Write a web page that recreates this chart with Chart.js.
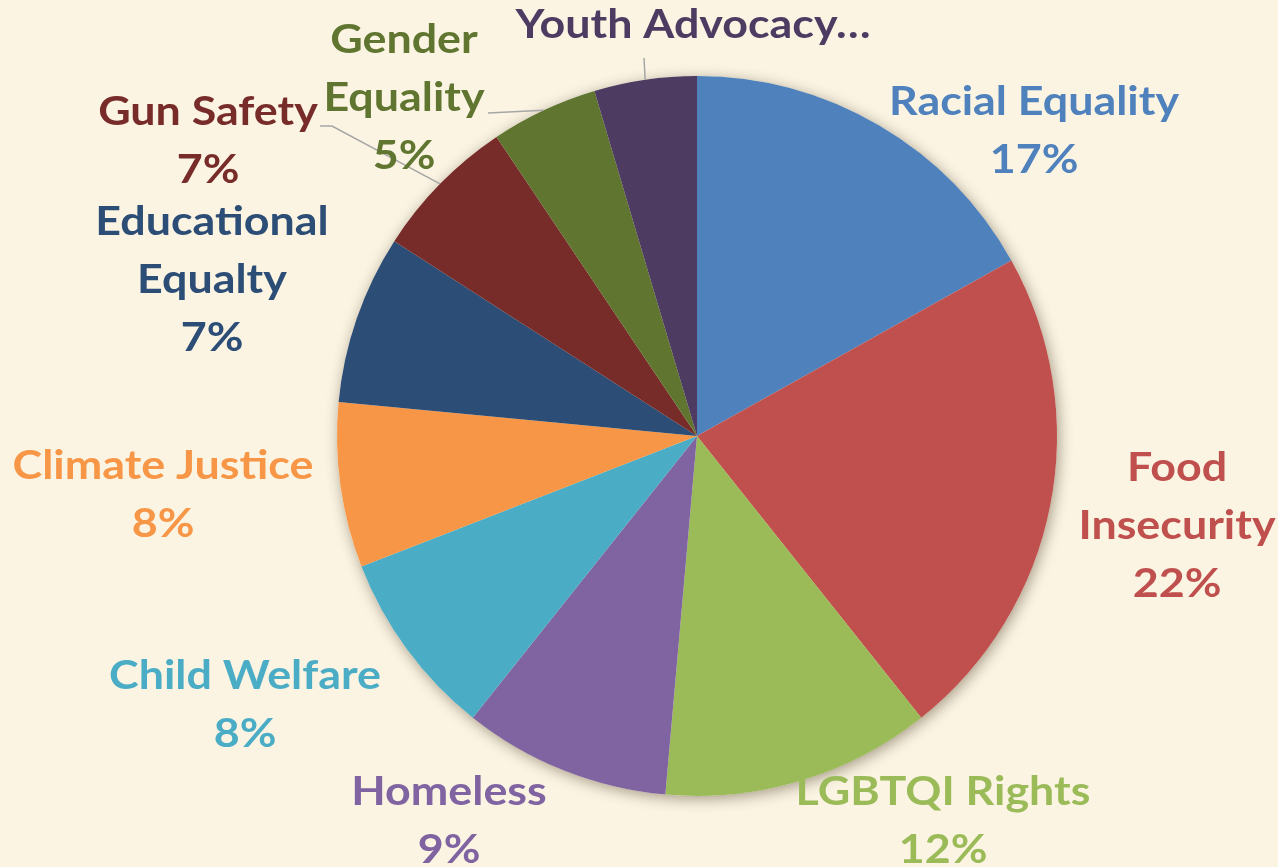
<!DOCTYPE html>
<html>
<head>
<meta charset="utf-8">
<script src="https://cdn.jsdelivr.net/npm/chart.js@4"></script>
<style>
  html, body { margin: 0; padding: 0; background: #fbf4e3; }
  #wrap { width: 1278px; height: 867px; position: relative; }
</style>
</head>
<body>
<div id="wrap"><canvas id="pie"></canvas></div>
<script>
const categories = [
  "Racial Equality", "Food Insecurity", "LGBTQI Rights", "Homeless", "Child Welfare",
  "Climate Justice", "Educational Equalty", "Gun Safety", "Gender Equality", "Youth Advocacy…"
];
const shares = [16.9, 22.4, 12.1, 9.3, 8.4, 7.4, 7.6, 6.5, 4.8, 4.6];
const shownPct = ["17%", "22%", "12%", "9%", "8%", "8%", "7%", "7%", "5%", ""];
const sliceColors = [
  "#4f81bd", "#c0504d", "#9bbb59", "#8064a2", "#4bacc6",
  "#f79646", "#2c4d75", "#772c2a", "#5f7530", "#4d3b62"
];

// how each label is broken into lines, and where its first line sits
const labelLines = [
  ["Racial Equality"], ["Food", "Insecurity"], ["LGBTQI Rights"], ["Homeless"], ["Child Welfare"],
  ["Climate Justice"], ["Educational", "Equalty"], ["Gun Safety"], ["Gender", "Equality"], ["Youth Advocacy…"]
];
const labelAt = [
  [1034, 102], [1177, 468], [943, 792], [449, 792], [245, 676],
  [163, 466], [212, 222], [208, 112], [404, 40], [693, 25]
];
const LINE_H = 58;
const STRETCH = 1.12; // Calibri-ish width from Lato

const shadowPlugin = {
  id: "pieShadow",
  beforeDatasetsDraw(chart) {
    const arc = chart.getDatasetMeta(0).data[0];
    if (!arc) return;
    const ctx = chart.ctx;
    ctx.save();
    ctx.shadowColor = "rgba(60, 45, 20, 0.45)";
    ctx.shadowBlur = 14;
    ctx.shadowOffsetX = 2;
    ctx.shadowOffsetY = 3;
    ctx.fillStyle = "#fbf4e3";
    ctx.beginPath();
    ctx.arc(arc.x, arc.y, arc.outerRadius, 0, Math.PI * 2);
    ctx.fill();
    ctx.restore();
  }
};

const labelPlugin = {
  id: "outerLabels",
  afterDatasetsDraw(chart) {
    const ctx = chart.ctx;
    const arcs = chart.getDatasetMeta(0).data;
    ctx.save();

    // leader lines for the small top slices
    ctx.strokeStyle = "#a6a6a6";
    ctx.lineWidth = 1.5;
    const edge = (i) => {
      const a = arcs[i];
      const mid = (a.startAngle + a.endAngle) / 2;
      return [a.x + Math.cos(mid) * a.outerRadius, a.y + Math.sin(mid) * a.outerRadius];
    };
    const leaders = { 7: [[320, 126], [332, 126]], 8: [[488, 113]], 9: [[644, 58]] };
    for (const [i, pts] of Object.entries(leaders)) {
      const [ex, ey] = edge(Number(i));
      ctx.beginPath();
      ctx.moveTo(pts[0][0], pts[0][1]);
      for (let k = 1; k < pts.length; k++) ctx.lineTo(pts[k][0], pts[k][1]);
      ctx.lineTo(ex, ey);
      ctx.stroke();
    }

    ctx.font = "bold 40px Lato, 'Open Sans', sans-serif";
    ctx.textAlign = "center";
    ctx.textBaseline = "middle";
    categories.forEach((name, i) => {
      const lines = labelLines[i].slice();
      if (shownPct[i]) lines.push(shownPct[i]);
      ctx.fillStyle = sliceColors[i];
      const [x, y] = labelAt[i];
      lines.forEach((t, k) => {
        ctx.save();
        ctx.translate(x, y + k * LINE_H);
        ctx.scale(STRETCH, 1);
        ctx.fillText(t, 0, 0);
        ctx.restore();
      });
    });
    ctx.restore();
  }
};

new Chart(document.getElementById("pie"), {
  type: "pie",
  data: {
    labels: categories,
    datasets: [{
      data: shares,
      backgroundColor: sliceColors,
      borderWidth: 0
    }]
  },
  options: {
    responsive: true,
    maintainAspectRatio: false,
    animation: false,
    layout: { padding: { top: 76, bottom: 71, left: 337, right: 221 } },
    plugins: {
      legend: { display: false },
      tooltip: { enabled: false }
    }
  },
  plugins: [shadowPlugin, labelPlugin]
});
</script>
</body>
</html>
